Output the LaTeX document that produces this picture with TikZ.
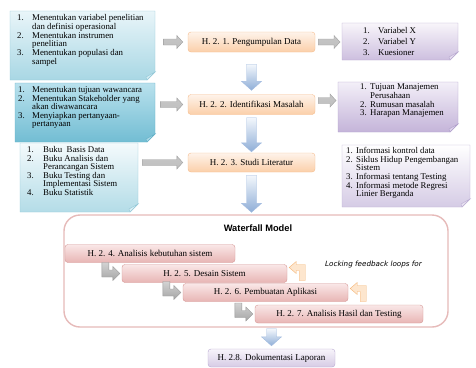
\documentclass[tikz,border=0pt]{standalone}
\usepackage{fontspec}
\setmainfont{Liberation Serif}
\setsansfont{Liberation Sans}
\newfontfamily\dejavu{DejaVu Sans}
\usetikzlibrary{calc}

\definecolor{hbtop}{HTML}{FEF3EA}
\definecolor{hbbot}{HTML}{FBCFA9}
\definecolor{hbline}{HTML}{F5BC8D}
\definecolor{wbtop}{HTML}{F9E7E7}
\definecolor{wbbot}{HTML}{E8B5B4}
\definecolor{wbline}{HTML}{D69896}
\definecolor{lbtop}{HTML}{F7F4FA}
\definecolor{lbbot}{HTML}{D6CBE5}
\definecolor{lbline}{HTML}{B8A9D1}
\definecolor{wfline}{HTML}{E6BAB9}
\definecolor{ntatop}{HTML}{E9F5F9}
\definecolor{ntabot}{HTML}{A8D7E4}
\definecolor{ntaline}{HTML}{93C8D8}
\definecolor{ntafold}{HTML}{D2ECF3}
\definecolor{ntbtop}{HTML}{B9E1ED}
\definecolor{ntbbot}{HTML}{72BDD3}
\definecolor{ntbline}{HTML}{62B0C7}
\definecolor{ntbfold}{HTML}{A9D8E6}
\definecolor{ntctop}{HTML}{F4FAFC}
\definecolor{ntcbot}{HTML}{B3DCE7}
\definecolor{ntcline}{HTML}{93C8D8}
\definecolor{ntcfold}{HTML}{DCEFF4}
\definecolor{npatop}{HTML}{F8F5FA}
\definecolor{npabot}{HTML}{CDBFDF}
\definecolor{npaline}{HTML}{B7A8CF}
\definecolor{npafold}{HTML}{E4DCEE}
\definecolor{npbtop}{HTML}{F3EFF8}
\definecolor{npbbot}{HTML}{C4B4D9}
\definecolor{npbline}{HTML}{AF9FCB}
\definecolor{npbfold}{HTML}{DDD3EA}
\definecolor{npctop}{HTML}{FFFFFF}
\definecolor{npcbot}{HTML}{D5CBE5}
\definecolor{npcline}{HTML}{BBADD3}
\definecolor{npcfold}{HTML}{E8E2F1}
\definecolor{bluetop}{HTML}{F3F7FC}
\definecolor{bluebot}{HTML}{8FAED7}
\definecolor{blueline}{HTML}{A2BBDF}
\definecolor{fbfill}{HTML}{FDE6CE}
\definecolor{fbline}{HTML}{F5B575}

% numbered list in a note: #1 indent, #2 line distance, #3 rows
\newcommand{\numlist}[3]{{\fontsize{8.8}{#2}\selectfont
  \begin{tabular}{@{}p{#1}@{}l@{}}#3\end{tabular}}}

% note with folded corner: #1 name, #2-#5 corners, #6 colour, #7 text at, #8 text
\newcommand{\notebox}[8]{%
  \path[top color=#6top, bottom color=#6bot, draw=#6line]
    (#2,#3) -- (#4,#3) -- (#4,#5-8) -- (#4-8,#5) -- (#2,#5) -- cycle;
  \path[fill=#6fold, draw=#6line] (#4,#5-8) -- (#4-9,#5-3) -- (#4-8,#5) -- cycle;
  \node[inner sep=0, minimum width=#4-#2, minimum height=#5-#3,
    anchor=north west] (#1) at (#2,#3) {};
  \node[anchor=north west, inner sep=0] (#1txt) at (#7) {#8};}

% block arrow to the right, at the height of the end point
\newcommand{\harrow}[3]{%
  \path[#3] let \p1=#1, \p2=#2 in
    (\x1,\y2+3pt) -- (\x2-6pt,\y2+3pt) -- (\x2-6pt,\y2+6.5pt) -- (\x2,\y2)
    -- (\x2-6pt,\y2-6.5pt) -- (\x2-6pt,\y2-3pt) -- (\x1,\y2-3pt) -- cycle;}

% block arrow downwards, under the start point
\newcommand{\varrow}[2]{%
  \path[bluearrow] let \p1=#1, \p2=#2 in
    (\x1-5pt,\y1) -- (\x1-5pt,\y2+9pt) -- (\x1-10pt,\y2+9pt) -- (\x1,\y2)
    -- (\x1+10pt,\y2+9pt) -- (\x1+5pt,\y2+9pt) -- (\x1+5pt,\y1) -- cycle;}

\tikzset{
  hbox/.style={draw=hbline, top color=hbtop, bottom color=hbbot,
    rounded corners=3pt, minimum width=127, minimum height=20, inner sep=0,
    font=\fontsize{9}{10}\selectfont},
  wbox/.style={draw=wbline, top color=wbtop, bottom color=wbbot,
    rounded corners=3pt, minimum height=18, inner sep=0,
    font=\fontsize{9}{10}\selectfont},
  lbox/.style={draw=lbline, top color=lbtop, bottom color=lbbot,
    rounded corners=3pt, minimum width=127, minimum height=18, inner sep=0,
    font=\fontsize{9}{10}\selectfont},
  grayarrow/.style={draw=gray!75, top color=gray!45, middle color=gray!8,
    bottom color=gray!50},
  bluearrow/.style={draw=blueline, top color=bluetop, bottom color=bluebot},
  ldrop/.pic={
    \path[draw=gray!80, top color=gray!35, bottom color=gray!70]
      (0,0) -- (-7,-7) -- (-7,-3.5) -- (-11,-3.5) -- (-11,-11) -- (-18,-11)
      -- (-18,3.5) -- (-7,3.5) -- (-7,7) -- cycle;},
  uturn/.pic={
    \path[draw=fbline, fill=fbfill]
      (0,0) -- (7,-6) -- (7,-3) -- (16,-3) -- (16,13) -- (10,13) -- (10,3)
      -- (7,3) -- (7,6) -- cycle;}
}

\begin{document}
\begin{tikzpicture}[x=1pt,y=-1pt]
  \useasboundingbox (0,0) rectangle (476,367);

  % waterfall frame
  \node[draw=wfline, line width=1.4pt, rounded corners=16pt, fill=white,
    minimum width=384, minimum height=112] (wf) at (256,271) {};
  \node[font=\sffamily\bfseries\fontsize{9.3}{10}\selectfont] (wftitle)
    at (258,228) {Waterfall Model};

  % notes on the left
  \notebox{a1}{10}{11}{155}{80}{nta}{17,14.6}{\numlist{15pt}{8.4}{%
    1. & Menentukan variabel penelitian\\ & dan definisi operasional\\
    2. & Menentukan instrumen\\ & penelitian\\
    3. & Menentukan populasi dan\\ & sampel}}
  \notebox{a2}{15}{83}{155}{142}{ntb}{18,86.6}{\numlist{14pt}{7.8}{%
    1. & Menentukan tujuan wawancara\\
    2. & Menentukan Stakeholder yang\\ & akan diwawancara\\
    3. & Menyiapkan pertanyaan-\\ & pertanyaan}}
  \notebox{a3}{20}{143}{138}{212}{ntc}{27,146.6}{\numlist{16pt}{8.2}{%
    1. & Buku\ \ Basis Data\\
    2. & Buku Analisis dan\\ & Perancangan Sistem\\
    3. & Buku Testing dan\\ & Implementasi Sistem\\
    4. & Buku Statistik}}

  % notes on the right
  \notebox{b1}{342}{23}{458}{60}{npa}{363,24.9}{\numlist{15pt}{11.4}{%
    1. & Variabel X\\ 2. & Variabel Y\\ 3. & Kuesioner}}
  \notebox{b2}{338}{82}{458}{132}{npb}{360,83.6}{\numlist{10pt}{8.5}{%
    1. & Tujuan Manajemen\\ & Perusahaan\\
    2. & Rumusan masalah\\ 3. & Harapan Manajemen}}
  \notebox{b3}{342}{145}{470}{207}{npc}{346,147.6}{\numlist{10pt}{8.1}{%
    1. & Informasi kontrol data\\
    2. & Siklus Hidup Pengembangan\\ & Sistem\\
    3. & Informasi tentang Testing\\
    4. & Informasi metode Regresi\\ & Linier Berganda}}

  % steps
  \node[hbox] (h21) at (251.5,42) {H. 2. 1. Pengumpulan Data};
  \node[hbox] (h22) at (251.5,104.5) {H. 2. 2. Identifikasi Masalah};
  \node[hbox, minimum height=19] (h23) at (251.5,162.5) {H. 2. 3. Studi Literatur};

  \node[wbox, minimum width=170] (h24) at (150,253.5) {H. 2. 4. Analisis kebutuhan sistem};
  \node[wbox, minimum width=165] (h25) at (204.5,273.5) {H. 2. 5. Desain Sistem};
  \node[wbox, minimum width=165] (h26) at (265.5,292.5) {H. 2. 6. Pembuatan Aplikasi};
  \node[wbox, minimum width=168] (h27) at (339,314) {H. 2. 7. Analisis Hasil dan Testing};
  \node[font=\dejavu\itshape\fontsize{7.2}{8}\selectfont] (lock)
    at (373.5,265) {Locking feedback loops for};

  \node[lbox] (h28) at (271.5,358) {H. 2.8. Dokumentasi Laporan};

  % arrows in and out of the steps
  \harrow{([xshift=8pt]a1.east)}{([xshift=-5pt]h21.west)}{grayarrow}
  \harrow{([xshift=5pt]a2.east)}{([xshift=-5pt]h22.west)}{grayarrow}
  \harrow{([xshift=4pt]a3.east)}{([xshift=-5pt]h23.west)}{grayarrow}
  \harrow{([xshift=3pt]h21.east)}{($(b1.west |- h21.east)+(-2,0)$)}{grayarrow}
  \harrow{([xshift=3pt]h22.east)}{($(b2.west |- h22.east)+(-2,-4)$)}{grayarrow}

  \varrow{([yshift=-12pt]h21.south)}{([yshift=4pt]h22.north)}
  \varrow{([yshift=-3pt]h22.south)}{([yshift=1pt]h23.north)}
  \varrow{([yshift=-3pt]h23.south)}{([yshift=2pt]wf.north)}
  \varrow{($(h28.north |- wf.south)+(0,1)$)}{([yshift=3pt]h28.north)}

  % waterfall steps and feedback loops
  \pic at ([xshift=-2pt]h25.west) {ldrop};
  \pic at ([xshift=-2pt]h26.west) {ldrop};
  \pic at ([xshift=-2pt]h27.west) {ldrop};
  \pic at ($(h25.east)+(2,-6)$) {uturn};
  \pic at ($(h26.east)+(2,-4)$) {uturn};
\end{tikzpicture}
\end{document}
